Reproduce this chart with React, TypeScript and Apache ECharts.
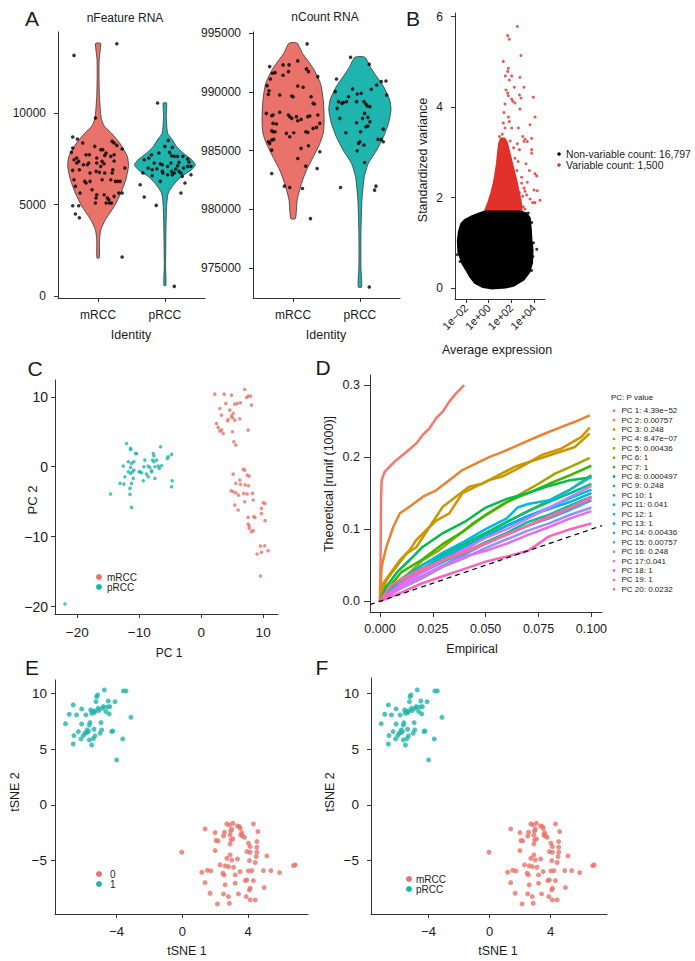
import React, { useEffect, useRef } from "react";
import * as echarts from "echarts";

// ---------------- Panel A ----------------
const identities = ["mRCC", "pRCC"];
const featureTicks = [0, 5000, 10000];
const countTicks = [975000, 980000, 985000, 990000, 995000];

// violin profiles: [value, relative half width]
const featViolinM = [[2100,0.04],[3090,0.045],[3640,0.09],[4180,0.24],[4900,0.53],[5640,0.75],[6360,0.91],[7090,1.0],[7640,0.96],[8360,0.71],[8900,0.44],[9300,0.2],[9730,0.1],[10900,0.045],[12000,0.03],[12900,0.035],[13300,0.06],[13800,0.08]];
const featViolinP = [[600,0.035],[1640,0.022],[3450,0.033],[4900,0.055],[5640,0.11],[6180,0.33],[6540,0.55],[6910,0.88],[7180,1.0],[7450,0.88],[7820,0.6],[8180,0.38],[8550,0.24],[8900,0.09],[9800,0.045],[10545,0.055]];
const countViolinM = [[979210,0.075],[980770,0.13],[982200,0.27],[983330,0.43],[984470,0.65],[985600,0.86],[986465,0.97],[987600,1.0],[989310,0.97],[990730,0.88],[992000,0.65],[993290,0.3],[994150,0.13]];
const countViolinP = [[973380,0.055],[975090,0.033],[977930,0.033],[980770,0.065],[982770,0.14],[983900,0.27],[985040,0.54],[986180,0.76],[987320,0.92],[988460,1.0],[989310,0.96],[990450,0.76],[991300,0.54],[992150,0.33],[992950,0.16]];

// jitter points: [offset from category, value]
const featPointsM = [[-0.36,13144],[0.28,13780],[-0.38,8690],[-0.31,8581],[-0.38,8090],[-0.40,7854],[-0.23,8363],[-0.05,8181],[-0.36,7454],[-0.32,7545],[-0.29,7363],[-0.32,7272],[-0.28,6908],[-0.38,6872],[-0.36,6363],[-0.34,6000],[-0.27,5636],[-0.18,7727],[-0.13,7727],[-0.14,7272],[-0.16,7181],[-0.12,6727],[-0.18,6181],[-0.20,6272],[-0.12,6272],[-0.03,6818],[0.02,6763],[-0.02,7272],[-0.02,7545],[0.04,8000],[0.07,8000],[0.12,7817],[0.10,7690],[0.06,7363],[0.09,7236],[0.19,7636],[0.24,7727],[0.21,8454],[0.24,8363],[0.28,8236],[0.36,8036],[0.24,7381],[0.22,6908],[0.21,6727],[0.19,6363],[0.29,6272],[0.33,6272],[0.31,5636],[0.36,5636],[0.40,7000],[-0.09,5818],[-0.02,5545],[-0.03,5363],[0.09,5545],[0.14,5363],[0.12,5090],[0.17,5090],[0.20,5090],[0.24,5454],[-0.04,5090],[-0.38,4945],[-0.29,4945],[-0.34,4490],[-0.28,4290],[0.36,2145],[-0.04,9726],[0.06,6363],[0.10,6727],[0.16,5272],[0.26,6272],[-0.22,7181],[0.04,7090]];
const featPointsP = [[-0.11,10545],[0.05,8508],[0.11,8127],[0,8181],[-0.09,7817],[-0.20,7727],[-0.16,7272],[-0.24,7545],[-0.31,7454],[-0.25,7000],[-0.33,6727],[-0.37,6090],[-0.31,5418],[-0.13,4963],[0.24,5636],[0.14,7636],[0.07,7854],[0.10,7672],[0.19,7636],[0.21,7308],[0.27,7636],[0.34,7490],[0.36,7327],[0.39,7090],[0.39,6636],[0.30,6181],[0.26,6545],[0.16,6945],[0.19,7127],[0.09,7272],[0.10,6818],[0.14,6727],[0.04,7090],[-0.04,7181],[-0.07,7236],[-0.12,6963],[-0.07,6272],[-0.19,6581],[-0.19,6908],[-0.03,6727],[0.04,6636],[0.11,6636],[0.21,6818],[0.24,6727],[0.28,7000],[0.34,7090],[0.14,545],[-0.04,6818]];
const countPointsM = [[0.21,994090],[-0.35,992155],[-0.15,992300],[-0.06,992300],[0.07,992640],[0.20,991955],[0.23,991730],[0.37,991300],[-0.31,991590],[-0.34,991100],[-0.27,991640],[-0.15,991415],[-0.07,991730],[-0.39,990530],[-0.36,990100],[-0.37,989790],[-0.20,989735],[-0.02,989650],[0,989590],[0.15,990390],[0.07,990505],[0.27,989590],[0.30,989025],[0.32,988970],[-0.40,988170],[-0.32,987970],[-0.30,988030],[-0.20,988260],[-0.07,988030],[-0.05,987890],[-0.02,987745],[0.05,987890],[0.07,987545],[0.12,987660],[0.22,987890],[0.25,987945],[0.37,988030],[0.40,987320],[0.35,986980],[-0.30,987320],[-0.25,987260],[-0.32,986690],[-0.30,986605],[-0.27,986605],[-0.10,986465],[-0.05,986180],[0.01,986520],[0.19,986605],[0.22,986550],[-0.32,985895],[-0.37,985755],[-0.35,985610],[-0.29,985950],[0.40,984900],[0.23,985410],[0.12,985185],[-0.32,985040],[0.07,984330],[0.19,983675],[0.36,983475],[-0.32,983050],[-0.13,981970],[-0.05,981855],[0.14,981770],[0.26,979210],[0.30,986890]];
const countPointsP = [[-0.14,992950],[0.14,992355],[-0.35,991100],[-0.37,990020],[-0.32,989170],[-0.34,988600],[-0.27,989025],[-0.25,989080],[-0.20,989170],[-0.17,989590],[-0.11,990250],[-0.04,989820],[-0.05,989170],[0.02,989880],[0.06,989170],[0.09,988970],[0.11,988800],[0.15,988740],[0.17,990220],[0.25,990590],[0.32,990875],[0.39,990930],[0.40,989735],[0.07,988170],[0.04,987745],[0.12,987830],[0.15,987460],[0.12,987090],[-0.05,987375],[0.09,987035],[0.01,986605],[0,985755],[-0.02,985610],[0.06,985470],[-0.04,984985],[-0.21,986520],[-0.30,987745],[0.35,986830],[0.32,985950],[0.35,985755],[0.27,985950],[0.07,983990],[0.24,981970],[0.22,981630],[-0.29,981855],[0.14,973380]];

// ---------------- Panel B (x in log10 of average expression) ----------------
const bTicksX = [-2, 0, 2, 4];
const bTicksY = [0, 2, 4, 6];
const bLegend = ["Non-variable count: 16,797", "Variable count: 1,500"];
const nonVariableCloud = [[-0.32,1.69],[2.7,1.69],[3.3,1.65],[3.6,1.55],[3.7,1.3],[3.75,1.05],[3.85,0.85],[3.8,0.55],[3.55,0.35],[3.1,0.2],[2.6,0.12],[2.2,0.06],[1.5,0.02],[0.2,0.0],[-0.5,0.03],[-1.2,0.12],[-1.6,0.25],[-1.9,0.38],[-2.3,0.55],[-2.65,0.8],[-2.7,1.05],[-2.6,1.25],[-2.4,1.42],[-2.1,1.5],[-1.5,1.58],[-0.9,1.64]];
const variableCloud = [[-0.32,1.69],[0.0,1.9],[0.25,2.1],[0.45,2.3],[0.6,2.5],[0.75,2.75],[0.85,3.0],[0.95,3.2],[1.1,3.3],[1.4,3.3],[1.6,3.2],[1.8,3.0],[2.1,2.7],[2.4,2.4],[2.65,2.1],[2.85,1.85],[2.9,1.69]];
const variablePoints = [[2.53,5.78],[1.68,5.58],[1.82,5.5],[2.85,5.14],[1.29,5.01],[1.74,4.86],[1.68,4.79],[1.47,4.69],[2.03,4.69],[2.76,4.66],[1.82,4.6],[2.26,4.44],[1.53,4.38],[1.68,4.31],[3.12,4.44],[1.74,4.25],[2.03,4.18],[2.71,4.27],[2.85,4.2],[3.94,4.22],[1.44,4.07],[2.12,4.13],[2.32,4.09],[2.76,3.96],[1.35,3.88],[1.74,3.78],[1.82,3.68],[1.29,3.65],[1.44,3.54],[2.03,3.54],[2.62,3.54],[4.09,3.78],[3.65,3.61],[3.21,3.29],[3.41,3.24],[3.79,3.31],[2.53,3.19],[3.0,3.35],[3.12,3.24],[3.79,3.06],[3.79,2.98],[2.71,3.06],[2.32,2.87],[3.29,2.75],[3.59,2.6],[4.09,2.53],[4.24,2.48],[3.41,2.34],[2.91,2.32],[3.12,2.21],[2.71,2.11],[3.21,2.14],[4.0,2.17],[4.29,2.15],[3.65,1.97],[4.53,1.94],[3.88,1.89],[4.09,1.89],[2.76,1.95],[2.32,1.88],[3.35,2.06],[3.0,2.03],[2.5,2.6],[2.6,2.8],[2.2,3.1],[1.9,3.25],[0.95,3.35],[1.2,3.4],[2.9,2.45],[3.05,1.8],[3.2,1.75]];
const nonVariablePoints = [[4.24,0.86],[3.79,0.39],[3.65,0.4],[-2.76,0.74],[-2.53,0.59],[3.5,1.66],[3.41,1.57],[3.9,0.7],[3.95,1.0],[3.8,1.45]];

// ---------------- Panel C ----------------
const pcTicks = [-20, -10, 0, 10];
const pcaM = [[2.2,10.38],[3.71,10.38],[4.89,10.24],[7.04,11.05],[7.58,10.1],[7.31,9.9],[7.96,10.1],[3.01,8.33],[3.98,9.05],[5.43,8.95],[5.81,9.05],[6.34,9.14],[4.62,8.1],[3.28,7.38],[5.16,7.62],[4.89,7.24],[5.05,7.0],[4.35,6.76],[4.25,6.57],[5.43,6.67],[6.24,6.86],[2.47,6.19],[2.74,5.62],[3.28,5.24],[3.01,5.1],[3.55,4.76],[5.05,5.0],[7.58,5.24],[5.27,3.57],[5.59,3.1],[8.12,8.81],[6.77,-0.38],[7.04,-0.48],[7.42,-1.19],[7.74,-1.33],[5.16,-1.05],[6.24,-1.9],[6.34,-2.52],[7.1,-2.57],[7.63,-2.71],[8.28,-3.81],[6.88,-3.81],[7.04,-5.0],[5.16,-3.57],[5.59,-3.71],[6.02,-4.05],[4.84,-3.43],[5.43,-5.48],[5.97,-6.19],[7.58,-7.24],[7.58,-8.19],[7.74,-8.81],[8.39,-9.14],[8.12,-9.29],[7.74,-8.43],[8.39,-4.76],[10.0,-5.14],[10.27,-5.24],[9.73,-5.95],[9.73,-6.67],[8.49,-7.14],[8.66,-7.24],[10.32,-7.71],[9.57,-11.33],[10.27,-11.29],[9.03,-12.48],[9.73,-12.24],[10.81,-12.0],[9.57,-15.62],[7.42,-3.9],[5.59,-2.38]];
const pcaP = [[-12.04,3.33],[-11.4,2.62],[-11.4,2.48],[-10.59,1.9],[-10.43,1.9],[-11.77,0.71],[-11.24,0.48],[-10.86,0.71],[-11.4,-0.1],[-11.77,-0.71],[-11.4,-0.95],[-11.08,-0.71],[-10.86,-0.48],[-10.0,-0.71],[-9.89,-0.71],[-9.62,-0.86],[-9.25,0],[-9.09,0.95],[-8.55,0.1],[-8.28,-0.1],[-8.82,-1.05],[-8.55,-1.43],[-8.01,-0.71],[-7.74,1.9],[-7.63,1.57],[-7.2,0.95],[-6.94,0.1],[-6.77,-0.24],[-7.63,0.71],[-7.85,0.95],[-8.01,-0.57],[-7.47,-1.67],[-6.56,2.86],[-6.4,0.14],[-5.48,1.19],[-5.32,1.43],[-4.78,1.76],[-4.68,-2.0],[-4.78,-2.86],[-11.24,-2.38],[-11.5,-3.1],[-11.5,-3.95],[-13.1,-2.38],[-12.47,-2.48],[-12.31,-1.43],[-14.62,-3.9],[-11.24,-5.81],[-21.99,-19.62],[-12.58,0.1],[-10.97,-1.67],[-9.35,-2.0],[-7.47,0]];

// ---------------- Panel D ----------------
const dTicksX = [0, 0.025, 0.05, 0.075, 0.1];
const dTicksY = [0, 0.1, 0.2, 0.3];
const pc1 = [[0,0],[0.0003,0.06],[0.0005,0.14],[0.0008,0.168],[0.0023,0.18],[0.0047,0.187],[0.0078,0.196],[0.0125,0.207],[0.0172,0.219],[0.0203,0.231],[0.0234,0.24],[0.0266,0.254],[0.0297,0.263],[0.0328,0.277],[0.0359,0.288],[0.0398,0.3]];
const pc2 = [[0,0],[0.0008,0.048],[0.003,0.075],[0.0063,0.103],[0.0094,0.122],[0.014,0.131],[0.0203,0.145],[0.0266,0.154],[0.0328,0.168],[0.039,0.182],[0.0453,0.191],[0.0516,0.2],[0.0578,0.207],[0.0672,0.219],[0.0766,0.231],[0.0859,0.242],[0.0922,0.249],[0.0992,0.258]];
const pc3 = [[0,0],[0.0016,0.025],[0.0047,0.038],[0.0094,0.057],[0.014,0.071],[0.0172,0.085],[0.0203,0.094],[0.0266,0.112],[0.0328,0.122],[0.039,0.15],[0.0453,0.159],[0.0516,0.168],[0.0578,0.173],[0.0672,0.187],[0.0766,0.203],[0.0859,0.212],[0.0953,0.228],[0.0992,0.241]];
const pc4 = [[0,0],[0.003,0.029],[0.0078,0.048],[0.0125,0.066],[0.0172,0.075],[0.0234,0.103],[0.0297,0.131],[0.0359,0.145],[0.0422,0.159],[0.0484,0.163],[0.0547,0.173],[0.0641,0.187],[0.0734,0.196],[0.0828,0.205],[0.0922,0.214],[0.0992,0.233]];
const pc5 = [[0,0],[0.0047,0.02],[0.0125,0.036],[0.0203,0.057],[0.0281,0.071],[0.0359,0.089],[0.0438,0.108],[0.0516,0.122],[0.0594,0.136],[0.0672,0.15],[0.075,0.163],[0.0828,0.177],[0.0906,0.187],[0.0992,0.199]];
const pc6 = [[0,0],[0.005,0.02],[0.0125,0.035],[0.02,0.05],[0.03,0.065],[0.04,0.078],[0.05,0.092],[0.06,0.11],[0.07,0.125],[0.08,0.14],[0.09,0.155],[0.1,0.175]];
const pc7 = [[0,0],[0.005,0.022],[0.01,0.04],[0.02,0.058],[0.03,0.08],[0.04,0.098],[0.05,0.12],[0.06,0.138],[0.07,0.15],[0.08,0.163],[0.09,0.175],[0.1,0.188]];
const pc8 = [[0,0],[0.003,0.02],[0.008,0.04],[0.015,0.06],[0.02,0.075],[0.03,0.095],[0.04,0.11],[0.05,0.13],[0.06,0.142],[0.07,0.15],[0.08,0.16],[0.09,0.168],[0.1,0.172]];
const pc9 = [[0,0],[0.01,0.03],[0.02,0.05],[0.03,0.065],[0.04,0.08],[0.05,0.095],[0.06,0.11],[0.07,0.125],[0.08,0.138],[0.09,0.15],[0.1,0.163]];
const pc10 = [[0,0],[0.01,0.022],[0.02,0.04],[0.03,0.055],[0.04,0.068],[0.05,0.082],[0.06,0.095],[0.07,0.11],[0.08,0.12],[0.09,0.133],[0.1,0.145]];
const pc11 = [[0,0],[0.01,0.028],[0.02,0.045],[0.03,0.062],[0.04,0.075],[0.05,0.09],[0.06,0.105],[0.07,0.118],[0.08,0.13],[0.09,0.143],[0.1,0.155]];
const pc12 = [[0,0],[0.01,0.03],[0.02,0.05],[0.03,0.068],[0.04,0.083],[0.05,0.1],[0.06,0.115],[0.065,0.13],[0.07,0.135],[0.08,0.14],[0.09,0.155],[0.1,0.173]];
const pc13 = [[0,0],[0.01,0.025],[0.02,0.045],[0.03,0.06],[0.04,0.075],[0.05,0.09],[0.06,0.105],[0.07,0.118],[0.08,0.128],[0.09,0.138],[0.1,0.15]];
const pc14 = [[0,0],[0.01,0.02],[0.02,0.035],[0.03,0.05],[0.04,0.065],[0.05,0.08],[0.06,0.093],[0.07,0.105],[0.08,0.115],[0.09,0.127],[0.1,0.14]];
const pc15 = [[0,0],[0.01,0.018],[0.02,0.032],[0.03,0.048],[0.04,0.06],[0.05,0.074],[0.06,0.086],[0.07,0.098],[0.08,0.108],[0.09,0.12],[0.1,0.13]];
const pc16 = [[0,0],[0.01,0.022],[0.02,0.04],[0.03,0.057],[0.04,0.072],[0.05,0.088],[0.06,0.1],[0.07,0.115],[0.08,0.13],[0.09,0.145],[0.1,0.16]];
const pc17 = [[0,0],[0.01,0.02],[0.02,0.035],[0.03,0.05],[0.04,0.062],[0.05,0.07],[0.06,0.08],[0.07,0.092],[0.08,0.103],[0.09,0.115],[0.1,0.125]];
const pc18 = [[0,0],[0.01,0.025],[0.02,0.042],[0.03,0.058],[0.04,0.07],[0.05,0.08],[0.06,0.092],[0.07,0.105],[0.08,0.118],[0.09,0.13],[0.1,0.143]];
const pc19 = [[0,0],[0.01,0.012],[0.02,0.025],[0.03,0.035],[0.04,0.045],[0.05,0.055],[0.06,0.062],[0.07,0.07],[0.075,0.08],[0.08,0.09],[0.09,0.1],[0.1,0.108]];
const pc20 = [[0,0],[0.005,0.022],[0.01,0.03],[0.02,0.045],[0.03,0.057],[0.04,0.068],[0.05,0.08],[0.06,0.093],[0.07,0.105],[0.08,0.117],[0.09,0.13],[0.1,0.145]];
const pcCurves = [pc1,pc2,pc3,pc4,pc5,pc6,pc7,pc8,pc9,pc10,pc11,pc12,pc13,pc14,pc15,pc16,pc17,pc18,pc19,pc20];
const pcLabels = ["PC 1: 4.39e\u221252","PC 2: 0.00757","PC 3: 0.248","PC 4: 8.47e\u221207","PC 5: 0.00436","PC 6: 1","PC 7: 1","PC 8: 0.000497","PC 9: 0.248","PC 10: 1","PC 11: 0.041","PC 12: 1","PC 13: 1","PC 14: 0.00436","PC 15: 0.00757","PC 16: 0.248","PC 17:0.041","PC 18: 1","PC 19: 1","PC 20: 0.0232"];
const pcColors = ["#F8766D","#EA8331","#D89000","#C09B00","#A3A500","#7CAE00","#39B600","#00BB4E","#00BF7D","#00C1A3","#00BFC4","#00BAE0","#00B0F6","#35A2FF","#9590FF","#C77CFF","#E76BF3","#FA62DB","#FF62BC","#FF6C91"];
const diagonal = [[-0.0047,-0.0047],[0.105,0.105]];

// ---------------- Panels E, F ----------------
const tsneTicksX = [-4, 0, 4];
const tsneTicksY = [-5, 0, 5, 10];
const tsneM = [[-0.04,-4.24],[1.38,-2.15],[1.99,-2.48],[2.05,-3.19],[2.17,-3.22],[1.99,-4.09],[1.18,-6.03],[1.52,-5.85],[1.73,-5.91],[1.38,-6.96],[1.68,-7.91],[2.13,-8.87],[2.5,-2.78],[2.7,-1.7],[2.56,-2.45],[2.86,-1.79],[2.9,-2.69],[2.96,-3.13],[3.07,-3.04],[2.94,-2.33],[3.0,-2.18],[2.9,-3.49],[3.35,-1.88],[3.47,-1.94],[3.51,-2.09],[3.61,-2.48],[3.55,-2.69],[3.65,-2.78],[3.78,-2.9],[3.07,-1.64],[2.7,-4.78],[2.9,-4.48],[2.6,-5.46],[2.29,-5.37],[2.46,-6.12],[2.54,-6.27],[2.8,-5.52],[3.0,-4.93],[3.11,-5.58],[3.21,-7.01],[3.35,-4.84],[4.08,-4.99],[4.12,-4.24],[4.53,-4.24],[4.53,-3.79],[4.49,-4.63],[4.43,-5.16],[4.53,-3.28],[4.32,-1.7],[4.59,-2.39],[4.12,-3.73],[4.02,-3.43],[3.92,-4.18],[4.22,-5.88],[4.93,-5.88],[5.14,-4.57],[5.38,-5.88],[5.91,-6.06],[6.76,-5.43],[6.86,-5.37],[4.97,-7.4],[3.82,-6.78],[3.92,-6.72],[4.12,-7.46],[4.08,-7.61],[3.88,-8.21],[4.12,-8.51],[4.43,-8.51],[3.41,-7.97],[2.8,-8.21],[2.86,-8.81],[2.5,-7.97],[2.6,-7.16],[3.21,-6.27],[3.51,-5.97],[4.02,-5.91],[4.32,-6.78]];
const tsneP = [[-7.11,7.28],[-6.88,8.12],[-6.64,8.96],[-6.6,6.21],[-6.64,5.46],[-6.44,8.06],[-6.33,6.57],[-6.17,5.91],[-6.13,8.6],[-6.13,7.25],[-6.03,6.21],[-5.87,8.06],[-5.83,6.48],[-5.79,6.72],[-5.72,6.57],[-5.66,7.16],[-5.62,7.37],[-5.58,8.51],[-5.52,5.37],[-5.46,8.36],[-5.42,5.94],[-5.38,6.78],[-5.36,8.27],[-5.32,8.42],[-5.26,9.25],[-5.22,9.7],[-5.16,9.85],[-5.12,8.66],[-5.08,8.45],[-5.01,6.42],[-4.95,7.37],[-4.91,6.72],[-4.85,8.66],[-4.81,8.81],[-4.75,10.3],[-4.65,8.36],[-4.57,8.78],[-4.51,9.31],[-4.45,8.15],[-4.41,8.81],[-4.3,6.57],[-4.24,6.63],[-4.1,9.25],[-4.0,4.03],[-3.63,5.91],[-3.59,10.21],[-3.43,10.21],[-3.13,7.85],[-5.52,8.21],[-5.93,6.42],[-5.66,5.82],[-5.32,6.18]];
const clusterLabels = ["0", "1"];

// ---------------- styling ----------------
const RED = "#E9736B";
const TEAL = "#20B4AE";
const VAR_RED = "#E2312B";
const AX = "#333333";
const TXT = "#1a1a1a";
const FONT = '"Liberation Sans", Arial, Helvetica, sans-serif';

const minus = (s: string) => s.replace(/-/g, "\u2212");

function axis(gridIndex: number, min: number, max: number, ticks: number[], fmt: (v: number) => string, o: any = {}) {
  return {
    type: "value", gridIndex, min, max,
    axisLine: { show: true, onZero: false, lineStyle: { color: AX, width: 1 } },
    axisTick: { show: true, customValues: ticks, length: o.tickLen ?? 4, lineStyle: { color: AX, width: 1 } },
    axisLabel: { show: true, customValues: ticks, formatter: fmt, margin: o.margin ?? 8, fontSize: o.fontSize ?? 12, color: TXT, fontFamily: FONT, rotate: o.rotate ?? 0 },
    splitLine: { show: false },
  };
}

function violinSeries(ai: number, profiles: number[][][], colors: string[], half: number) {
  return {
    type: "custom", xAxisIndex: ai, yAxisIndex: ai, z: 1, silent: true,
    data: profiles.map((p, i) => [i + 1, p[0][0]]),
    renderItem: (params: any, api: any) => {
      const i = params.dataIndex;
      const prof = profiles[i];
      const c = i + 1;
      const right = prof.map(([v, w]) => api.coord([c + w * half, v]));
      const left = prof.slice().reverse().map(([v, w]) => api.coord([c - w * half, v]));
      return {
        type: "polygon",
        shape: { points: right.concat(left), smooth: 0.2 },
        style: { fill: colors[i], stroke: "#333", lineWidth: 0.8 },
      };
    },
  };
}

function jitter(ai: number, pts: number[][], cat: number) {
  return {
    type: "scatter", xAxisIndex: ai, yAxisIndex: ai, z: 3, silent: true,
    symbolSize: 3.6, itemStyle: { color: "#000" },
    data: pts.map(([o, v]) => [cat + o, v]),
  };
}

function cloud(ai: number, pts: number[][], color: string, z: number) {
  return {
    type: "custom", xAxisIndex: ai, yAxisIndex: ai, z, silent: true,
    data: [pts[0]],
    renderItem: (_p: any, api: any) => ({
      type: "polygon",
      shape: { points: pts.map((p) => api.coord(p)) },
      style: { fill: color, stroke: color, lineWidth: 2.5, lineJoin: "round" },
    }),
  };
}

function scatter(ai: number, pts: number[][], color: string, size: number, z = 3) {
  return { type: "scatter", xAxisIndex: ai, yAxisIndex: ai, z, silent: true, symbolSize: size, itemStyle: { color }, data: pts };
}

function txt(x: number, y: number, text: string, size: number, o: any = {}) {
  return {
    type: "text", x, y, rotation: o.rot ?? 0, silent: true,
    style: { text, fontSize: size, fontFamily: FONT, fill: TXT, align: o.align ?? "center", verticalAlign: "middle", textAlign: o.align ?? "center", textVerticalAlign: "middle" },
  };
}
function dot(x: number, y: number, r: number, color: string) {
  return { type: "circle", silent: true, shape: { cx: x, cy: y, r }, style: { fill: color } };
}

export default function App() {
  const ref = useRef<HTMLDivElement>(null);
  useEffect(() => {
    if (!ref.current) return;
    const chart = echarts.init(ref.current, undefined, { renderer: "svg" });
    const idFmt = (v: number) => identities[Math.round(v) - 1] ?? "";
    const intFmt = (v: number) => minus(String(v));
    const sci = (v: number) => "1e" + (v < 0 ? "\u2212" : "+") + String(Math.abs(v)).padStart(2, "0");

    const grids = [
      { left: 58, top: 32, width: 147, height: 266 },
      { left: 253, top: 32, width: 147, height: 266 },
      { left: 455, top: 13, width: 90, height: 286 },
      { left: 55, top: 380, width: 223, height: 234 },
      { left: 370, top: 375, width: 232, height: 237 },
      { left: 55, top: 680, width: 253, height: 234 },
      { left: 371, top: 678, width: 236, height: 236 },
    ].map((g) => ({ ...g, containLabel: false, outerBoundsMode: "none" }));

    const xAxes = [
      axis(0, 0.4, 2.6, [1, 2], idFmt, { margin: 11 }),
      axis(1, 0.4, 2.6, [1, 2], idFmt, { margin: 11 }),
      axis(2, -2.97, 4.97, bTicksX, sci, { rotate: 45, margin: 7, fontSize: 11 }),
      axis(3, -23.6, 12.4, pcTicks, intFmt, { margin: 11, fontSize: 13.5 }),
      axis(4, -0.0047, 0.105, dTicksX, (v: number) => v.toFixed(3), { margin: 10, tickLen: 5, fontSize: 12.5 }),
      axis(5, -7.75, 7.64, tsneTicksX, intFmt, { margin: 11, fontSize: 13 }),
      axis(6, -7.78, 7.7, tsneTicksX, intFmt, { margin: 11, fontSize: 13 }),
    ];
    const yAxes = [
      axis(0, -90, 14420, featureTicks, intFmt, { margin: 12 }),
      axis(1, 972445, 995100, countTicks, intFmt, { margin: 12 }),
      axis(2, -0.24, 6.08, bTicksY, intFmt, { margin: 12 }),
      axis(3, -21.05, 12.4, pcTicks, intFmt, { margin: 7, fontSize: 14 }),
      axis(4, -0.0149, 0.3139, dTicksY, (v: number) => v.toFixed(1), { margin: 10, tickLen: 6, fontSize: 12.5 }),
      axis(5, -9.77, 11.19, tsneTicksY, intFmt, { margin: 8, fontSize: 13.5 }),
      axis(6, -9.77, 11.37, tsneTicksY, intFmt, { margin: 12, fontSize: 13.5 }),
    ];

    const series: any[] = [
      violinSeries(0, [featViolinM, featViolinP], [RED, TEAL], 0.455),
      jitter(0, featPointsM, 1),
      jitter(0, featPointsP, 2),
      violinSeries(1, [countViolinM, countViolinP], [RED, TEAL], 0.465),
      jitter(1, countPointsM, 1),
      jitter(1, countPointsP, 2),
      cloud(2, variableCloud, VAR_RED, 1),
      cloud(2, nonVariableCloud, "#000", 2),
      scatter(2, variablePoints, VAR_RED, 3),
      scatter(2, nonVariablePoints, "#000", 3),
      scatter(3, pcaM, RED, 3.6),
      scatter(3, pcaP, TEAL, 3.6),
    ];
    pcCurves.forEach((c, i) => {
      series.push({
        type: "line", xAxisIndex: 4, yAxisIndex: 4, z: 2 + i * 0.01, silent: true,
        symbol: "none", showSymbol: false, data: c,
        lineStyle: { color: pcColors[i], width: 2.5 },
      });
    });
    series.push({
      type: "line", xAxisIndex: 4, yAxisIndex: 4, z: 5, silent: true, symbol: "none",
      data: diagonal, lineStyle: { color: "#000", width: 1.2, type: [5, 4] },
    });
    series.push(scatter(5, tsneM, RED, 5), scatter(5, tsneP, TEAL, 5));
    series.push(scatter(6, tsneM, RED, 5), scatter(6, tsneP, TEAL, 5));

    const g: any[] = [
      txt(32, 18, "A", 21), txt(413, 18, "B", 21), txt(35, 368, "C", 21),
      txt(323, 367, "D", 21), txt(32, 667, "E", 21), txt(322, 667, "F", 21),
      txt(125, 18, "nFeature RNA", 12), txt(325, 17, "nCount RNA", 12),
      txt(131, 335, "Identity", 12.5), txt(326, 335, "Identity", 12.5),
      txt(497, 350, "Average expression", 12.5),
      txt(423, 160, "Standardized variance", 12.5, { rot: Math.PI / 2 }),
      txt(169, 653, "PC 1", 12), txt(32, 500, "PC 2", 13, { rot: Math.PI / 2 }),
      txt(472, 649, "Empirical", 12.5),
      txt(329, 484, "Theoretical [runif (1000)]", 12.5, { rot: Math.PI / 2 }),
      txt(187, 951, "tSNE 1", 12.5), txt(15, 792, "tSNE 2", 12.5, { rot: Math.PI / 2 }),
      txt(498, 951, "tSNE 1", 12.5), txt(330, 792, "tSNE 2", 12.5, { rot: Math.PI / 2 }),
      // B legend
      dot(559, 154, 1.8, "#000"), txt(566, 154, bLegend[0], 10.4, { align: "left" }),
      dot(559, 165, 1.8, VAR_RED), txt(566, 165, bLegend[1], 10.4, { align: "left" }),
      // C legend
      dot(99, 577, 3, RED), txt(107, 577, identities[0], 10, { align: "left" }),
      dot(99, 587, 3, TEAL), txt(107, 587, identities[1], 10, { align: "left" }),
      // D legend
      txt(611, 397, "PC: P value", 8, { align: "left" }),
      // E legend
      dot(99, 874, 3, RED), txt(110, 874, clusterLabels[0], 10, { align: "left" }),
      dot(99, 884, 3, TEAL), txt(110, 884, clusterLabels[1], 10, { align: "left" }),
      // F legend
      dot(409, 879, 3, RED), txt(416, 879, identities[0], 10, { align: "left" }),
      dot(409, 889, 3, TEAL), txt(416, 889, identities[1], 10, { align: "left" }),
    ];
    pcLabels.forEach((l, i) => {
      const y = 410.7 + i * 9.4;
      g.push(dot(614, y, 1.4, pcColors[i]), txt(621.5, y, l, 8, { align: "left" }));
    });

    chart.setOption({
      animation: false,
      backgroundColor: "#ffffff",
      textStyle: { fontFamily: FONT },
      grid: grids,
      xAxis: xAxes,
      yAxis: yAxes,
      series,
      graphic: { elements: g },
    });
    return () => chart.dispose();
  }, []);
  return <div ref={ref} style={{ position: "absolute", left: 0, top: 0, width: 695, height: 961, background: "#fff" }} />;
}
